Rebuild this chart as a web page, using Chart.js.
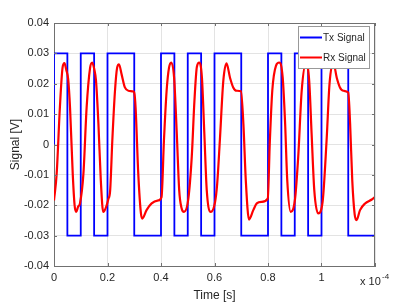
<!DOCTYPE html>
<html lang="en">
<head>
    <meta charset="UTF-8">
    <title>Tx / Rx Signal</title>
    <script src="https://cdn.jsdelivr.net/npm/chart.js"></script>
    <style>
        body { margin: 0; background: #fff; }
    </style>
</head>
<body>
    <canvas id="signalChart" width="415" height="304"></canvas>

    <script>
        // time axis is in units of 1e-4 s (the "x 10^-4" multiplier)
        const txTime = [0, 0, 0.05, 0.1, 0.15, 0.2, 0.3, 0.4, 0.45, 0.5, 0.55, 0.6, 0.7, 0.8, 0.85, 0.9, 0.95, 1.0, 1.1, 1.2];
        const txValue = [0, 0.03, -0.03, 0.03, -0.03, 0.03, -0.03, 0.03, -0.03, 0.03, -0.03, 0.03, -0.03, 0.03, -0.03, 0.03, -0.03, 0.03, -0.03, -0.03];

        // Rx samples
        const rxTime = [
            0.000, 0.010, 0.022, 0.032, 0.039, 0.046, 0.053, 0.060, 0.070, 0.077, 0.083, 0.090,
            0.097, 0.110, 0.122, 0.135, 0.143, 0.150, 0.157, 0.166, 0.175, 0.184, 0.195, 0.203,
            0.210, 0.218, 0.228, 0.236, 0.243, 0.253, 0.265, 0.278, 0.296, 0.300, 0.305, 0.315,
            0.325, 0.330, 0.346, 0.365, 0.390, 0.402, 0.411, 0.421, 0.430, 0.438, 0.449, 0.459,
            0.468, 0.477, 0.486, 0.502, 0.515, 0.525, 0.534, 0.543, 0.553, 0.562, 0.571, 0.586,
            0.602, 0.610, 0.620, 0.633, 0.645, 0.658, 0.670, 0.683, 0.699, 0.708, 0.717, 0.729,
            0.745, 0.758, 0.776, 0.799, 0.807, 0.816, 0.830, 0.842, 0.855, 0.864, 0.872, 0.885,
            0.901, 0.913, 0.926, 0.942, 0.954, 0.963, 0.973, 0.988, 1.004, 1.019, 1.030, 1.044,
            1.057, 1.069, 1.082, 1.100, 1.107, 1.115, 1.124, 1.131, 1.144, 1.163, 1.188, 1.200
        ];
        const rxValue = [
            -0.0184, -0.0096, 0.0122, 0.0253, 0.0268, 0.0245, 0.0215, 0.0120, -0.0096, -0.0200, -0.0222, -0.0205,
            -0.0194, -0.0096, 0.0122, 0.0253, 0.0270, 0.0250, 0.0210, 0.0069, -0.0118, -0.0222, -0.0205, -0.0180,
            -0.0150, 0.0013, 0.0177, 0.0253, 0.0264, 0.0230, 0.0188, 0.0177, 0.0175, 0.0170, 0.0122, -0.0096,
            -0.0227, -0.0244, -0.0216, -0.0194, -0.0184, -0.0173, 0.0013, 0.0177, 0.0253, 0.0270, 0.0220, 0.0036,
            -0.0150, -0.0210, -0.0222, -0.0180, -0.0040, 0.0144, 0.0255, 0.0270, 0.0220, 0.0036, -0.0150, -0.0222,
            -0.0190, -0.0130, 0.0013, 0.0210, 0.0267, 0.0220, 0.0188, 0.0177, 0.0175, 0.0068, -0.0118, -0.0247,
            -0.0216, -0.0194, -0.0189, -0.0178, 0.0013, 0.0177, 0.0260, 0.0270, 0.0220, 0.0069, -0.0118, -0.0222,
            -0.0180, -0.0040, 0.0177, 0.0267, 0.0210, 0.0036, -0.0150, -0.0227, -0.0190, 0.0013, 0.0200, 0.0270,
            0.0220, 0.0188, 0.0177, 0.0171, 0.0068, -0.0118, -0.0230, -0.0249, -0.0216, -0.0194, -0.0181, -0.0173
        ];

        const seriesNames = ['Tx Signal', 'Rx Signal'];
        const seriesColors = ['#0000ff', '#ff0000'];

        const txPoints = txTime.map((t, i) => ({ x: t, y: txValue[i] }));
        const rxPoints = rxTime.map((t, i) => ({ x: t, y: rxValue[i] }));

        const textColor = '#262626';
        const fontFamily = '"Liberation Sans", Arial, Helvetica, sans-serif';

        // box, inner tick marks, legend and the exponent label, matlab style
        const matlabLook = {
            id: 'matlabLook',
            afterDatasetsDraw(chart) {
                const ctx = chart.ctx;
                const a = chart.chartArea;
                const xs = chart.scales.x;
                const ys = chart.scales.y;
                ctx.save();
                ctx.strokeStyle = '#707070';
                ctx.lineWidth = 1;
                ctx.beginPath();
                ctx.moveTo(a.left, a.top + 0.5);
                ctx.lineTo(a.right, a.top + 0.5);
                ctx.moveTo(a.right - 0.5, a.top);
                ctx.lineTo(a.right - 0.5, a.bottom);
                // ticks inside the box
                xs.ticks.forEach(t => {
                    const px = Math.round(xs.getPixelForValue(t.value)) + 0.5;
                    ctx.moveTo(px, a.bottom);
                    ctx.lineTo(px, a.bottom - 3);
                    ctx.moveTo(px, a.top);
                    ctx.lineTo(px, a.top + 3);
                });
                ys.ticks.forEach(t => {
                    const py = Math.round(ys.getPixelForValue(t.value)) + 0.5;
                    ctx.moveTo(a.left, py);
                    ctx.lineTo(a.left + 3, py);
                    ctx.moveTo(a.right, py);
                    ctx.lineTo(a.right - 3, py);
                });
                ctx.stroke();

                // legend
                const lx = 298, ly = 26, lw = 71, lh = 42;
                ctx.fillStyle = '#ffffff';
                ctx.fillRect(lx, ly, lw, lh);
                ctx.strokeStyle = '#999999';
                ctx.strokeRect(lx + 0.5, ly + 0.5, lw, lh);
                ctx.font = '10px ' + fontFamily;
                ctx.textBaseline = 'middle';
                ctx.textAlign = 'left';
                seriesNames.forEach((name, i) => {
                    const yy = 37.5 + i * 20;
                    ctx.strokeStyle = seriesColors[i];
                    ctx.lineWidth = 2;
                    ctx.beginPath();
                    ctx.moveTo(300, yy);
                    ctx.lineTo(322, yy);
                    ctx.stroke();
                    ctx.fillStyle = textColor;
                    ctx.fillText(name, 323, yy + 0.5);
                });

                // exponent
                ctx.fillStyle = textColor;
                ctx.font = '11px ' + fontFamily;
                ctx.fillText('x 10', 360, 282);
                ctx.font = '8px ' + fontFamily;
                ctx.fillText('-4', 382, 277);
                ctx.restore();
            }
        };

        const ctx = document.getElementById('signalChart').getContext('2d');
        const chart = new Chart(ctx, {
            type: 'line',
            data: {
                datasets: [
                    {
                        label: seriesNames[1],
                        data: rxPoints,
                        borderColor: seriesColors[1],
                        borderWidth: 2.2,
                        pointRadius: 0,
                        cubicInterpolationMode: 'monotone',
                        fill: false
                    },
                    {
                        label: seriesNames[0],
                        data: txPoints,
                        borderColor: seriesColors[0],
                        borderWidth: 1.8,
                        pointRadius: 0,
                        stepped: 'before',
                        fill: false
                    }
                ]
            },
            options: {
                responsive: false,
                animation: false,
                layout: { padding: { top: 23, right: 40, left: 0, bottom: 0 } },
                plugins: {
                    legend: { display: false },
                    tooltip: { enabled: false }
                },
                scales: {
                    x: {
                        type: 'linear',
                        min: 0,
                        max: 1.2,
                        afterFit: s => { s.height = 38; },
                        ticks: {
                            stepSize: 0.2,
                            maxRotation: 0,
                            padding: 5,
                            color: textColor,
                            font: { size: 11, family: fontFamily },
                            callback: v => (v > 1.19 ? '' : String(Math.round(v * 10) / 10))
                        },
                        grid: { color: '#e3e3e3', drawTicks: false },
                        border: { display: true, color: '#707070' },
                        title: {
                            display: true,
                            text: 'Time [s]',
                            color: textColor,
                            font: { size: 12, family: fontFamily },
                            padding: { top: 0, bottom: 1 }
                        }
                    },
                    y: {
                        min: -0.04,
                        max: 0.04,
                        afterFit: s => { s.width = 54; },
                        ticks: {
                            stepSize: 0.01,
                            padding: 5,
                            color: textColor,
                            font: { size: 11, family: fontFamily },
                            callback: v => String(Math.round(v * 100) / 100)
                        },
                        grid: { color: '#e3e3e3', drawTicks: false },
                        border: { display: true, color: '#707070' },
                        title: {
                            display: true,
                            text: 'Signal [V]',
                            color: textColor,
                            font: { size: 12, family: fontFamily },
                            padding: { top: 8, bottom: 0 }
                        }
                    }
                }
            },
            plugins: [matlabLook]
        });
    </script>
</body>
</html>
